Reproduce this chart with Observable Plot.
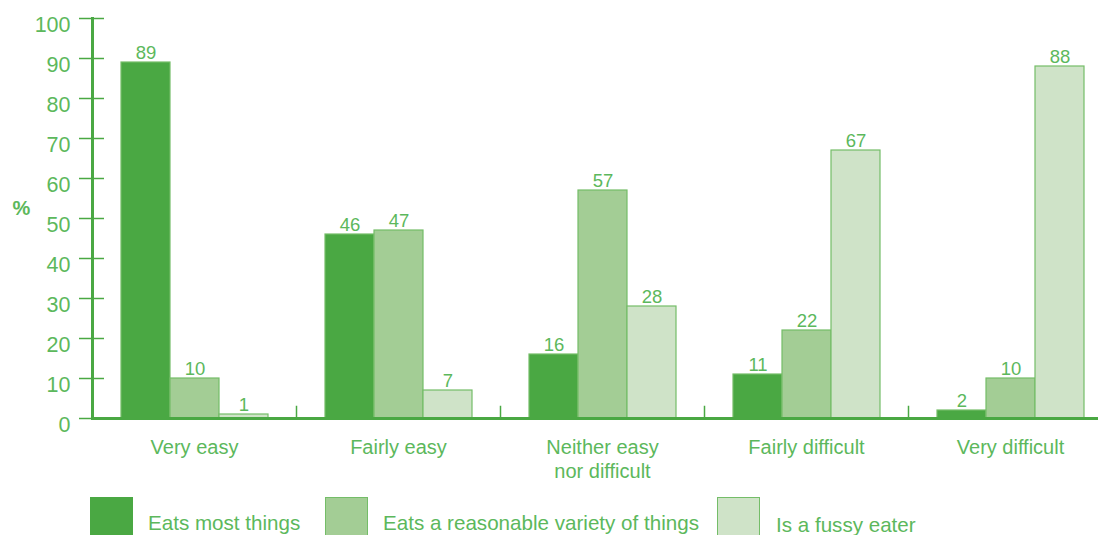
<!DOCTYPE html>
<html><head><meta charset="utf-8">
<script src="https://cdn.jsdelivr.net/npm/d3@7"></script>
<script src="https://cdn.jsdelivr.net/npm/@observablehq/plot@0.6"></script>
<style>
body{margin:0;overflow:hidden;background:#fff;font-family:"Liberation Sans",Arial,sans-serif;}
#wrap{position:relative;width:1098px;height:535px;overflow:hidden;}
#legend{position:absolute;left:0;top:497px;width:1098px;height:60px;}
.sw{position:absolute;top:0;width:43px;height:44px;box-sizing:border-box;border:1.5px solid #74bd68;}
.lab{position:absolute;white-space:nowrap;font-size:20.6px;line-height:20px;color:#5cb85c;}
</style></head><body><div id="wrap"><div id="chart"></div><div id="legend"></div></div>
<script>
const categories = ["Very easy", "Fairly easy", "Neither easy\nnor difficult", "Fairly difficult", "Very difficult"];
const series = ["Eats most things", "Eats a reasonable variety of things", "Is a fussy eater"];
const eatsMost = [89, 46, 16, 11, 2];
const reasonable = [10, 47, 57, 22, 10];
const fussy = [1, 7, 28, 67, 88];
const yTicks = [0, 10, 20, 30, 40, 50, 60, 70, 80, 90, 100];
const colors = ["#4aa843", "#a3cd95", "#cfe3c8"];

const axisColor = "#4aa843";
const textColor = "#5cb85c";
const strokeColor = "#74bd68";

const valuesBySeries = [eatsMost, reasonable, fussy];
const rows = [];
categories.forEach((c, i) => series.forEach((s, j) => rows.push({category: c, series: s, value: valuesBySeries[j][i]})));

const plot = Plot.plot({
  width: 1112, height: 490,
  marginLeft: 92, marginRight: 0, marginTop: 18, marginBottom: 72,
  style: {maxWidth: "none", fontFamily: "'Liberation Sans', Arial, sans-serif", color: textColor, background: "white", overflow: "visible"},
  fx: {domain: categories, padding: 0, label: null},
  x: {domain: series, paddingInner: 0, paddingOuter: 0.5676, axis: null},
  y: {domain: [0, 100], label: null},
  color: {domain: series, range: colors},
  marks: [
    Plot.barY(rows, {fx: "category", x: "series", y: "value", fill: "series", stroke: strokeColor, strokeWidth: 1.2}),
    Plot.frame({anchor: "left", facetAnchor: "left", stroke: axisColor, strokeWidth: 3}),
    Plot.axisY({ticks: yTicks, tickSize: 25, dx: 12, tickFormat: () => "", stroke: axisColor, strokeWidth: 1.5, label: null}),
    Plot.axisY({ticks: yTicks, tickSize: 0, tickPadding: 22, dy: 7, fontSize: 21.5, fill: textColor, label: null}),
    Plot.ruleY([0], {stroke: axisColor, strokeWidth: 3}),
    Plot.frame({anchor: "right", insetTop: 388, stroke: axisColor, strokeWidth: 1.5}),
    Plot.text(rows, {fx: "category", x: "series", y: "value", text: d => String(d.value), dy: -4, lineAnchor: "bottom", fontSize: 18.5, fill: textColor}),
    Plot.axisFx({anchor: "bottom", tickSize: 0, tickPadding: 18, fontSize: 20, lineHeight: 1.2, fill: textColor, label: null}),
    Plot.text(["%"], {frameAnchor: "left", facetAnchor: "left", dx: -80, dy: -10, fontSize: 20, fontWeight: "bold", fill: textColor})
  ]
});
document.getElementById("chart").append(plot);

const legend = document.getElementById("legend");
const swatchX = [90, 325, 717];
const labelX = [148, 383, 776];
const labelTop = [16, 16, 18];
series.forEach((s, i) => {
  const sw = document.createElement("div");
  sw.className = "sw";
  sw.style.left = swatchX[i] + "px";
  sw.style.background = colors[i];
  if (i === 0) sw.style.borderColor = colors[0];
  legend.append(sw);
  const lab = document.createElement("div");
  lab.className = "lab";
  lab.style.left = labelX[i] + "px";
  lab.style.top = labelTop[i] + "px";
  lab.textContent = s;
  legend.append(lab);
});
</script></body></html>
